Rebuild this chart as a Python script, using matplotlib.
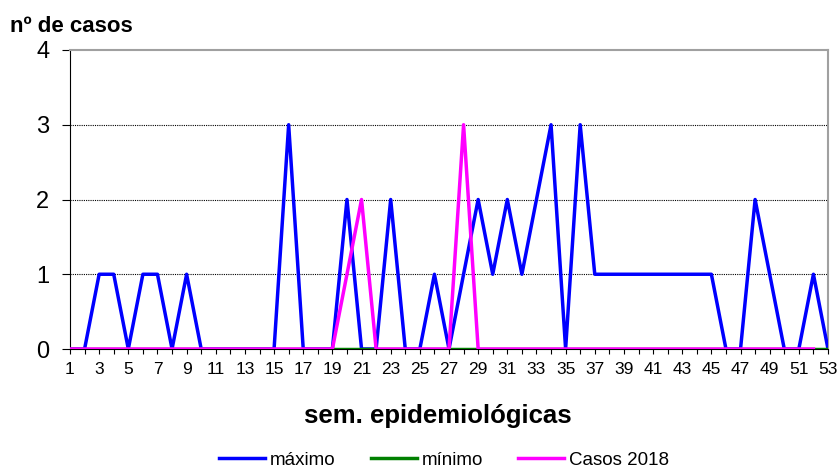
import matplotlib
matplotlib.use("Agg")
import matplotlib.pyplot as plt

plt.rcParams["font.family"] = ["Liberation Sans", "DejaVu Sans"]

weeks = list(range(1, 54))
maximo = [0, 0, 1, 1, 0, 1, 1, 0, 1, 0,
          0, 0, 0, 0, 0, 3, 0, 0, 0, 2,
          0, 0, 2, 0, 0, 1, 0, 1, 2, 1,
          2, 1, 2, 3, 0, 3, 1, 1, 1, 1,
          1, 1, 1, 1, 1, 0, 0, 2, 1, 0,
          0, 1, 0]
minimo = [0] * 53
casos_2018 = [0, 0, 0, 0, 0, 0, 0, 0, 0, 0,
              0, 0, 0, 0, 0, 0, 0, 0, 0, 1,
              2, 0, 0, 0, 0, 0, 0, 3, 0, 0,
              0, 0, 0, 0, 0, 0, 0, 0, 0, 0,
              0, 0, 0, 0, 0, 0, 0, 0, 0, 0,
              0, 0]

fig = plt.figure(figsize=(8.4, 4.67), dpi=100)
ax = fig.add_axes([70 / 840, 1 - 349 / 467, 758 / 840, 299 / 467])

ax.plot(weeks, maximo, color="#0000ff", lw=2.5, label="máximo", zorder=3)
ax.plot(weeks, minimo, color="#008000", lw=2.5, label="mínimo", zorder=4)
ax.plot(weeks[:len(casos_2018)], casos_2018, color="#ff00ff", lw=2.5,
        label="Casos 2018", zorder=5)

ax.set_xlim(1, 53)
ax.set_ylim(0, 4)
ax.set_yticks([0, 1, 2, 3, 4])
ax.set_xticks(weeks)
ax.set_xticklabels([str(w) if w % 2 == 1 else "" for w in weeks])
ax.tick_params(axis="x", labelsize=12.5, length=3.5, direction="out", pad=6)
ax.tick_params(axis="y", labelsize=17, length=6, direction="out", pad=9)
for y in [1, 2, 3]:
    ax.axhline(y, color="black", lw=0.8, ls=(0, (1, 1)), zorder=1)

ax.spines["left"].set_color("black")
ax.spines["bottom"].set_color("black")
ax.spines["top"].set_color("#a0a0a0")
ax.spines["right"].set_color("#a0a0a0")
ax.spines["top"].set_linewidth(1.5)
ax.spines["right"].set_linewidth(1.5)

fig.text(10 / 840, 1 - 32 / 467, "nº de casos", fontsize=16, fontweight="bold",
         va="baseline", ha="left")
fig.text(438 / 840, 1 - 423 / 467, "sem. epidemiológicas", fontsize=18.5,
         fontweight="bold", va="baseline", ha="center")

fig.legend(loc="center", bbox_to_anchor=(444 / 840, 1 - 460 / 467), ncol=3,
           frameon=False, fontsize=13.5, handlelength=2.45, columnspacing=1.9,
           handletextpad=0.25, borderaxespad=0)

fig.savefig("out.png", dpi=100)
